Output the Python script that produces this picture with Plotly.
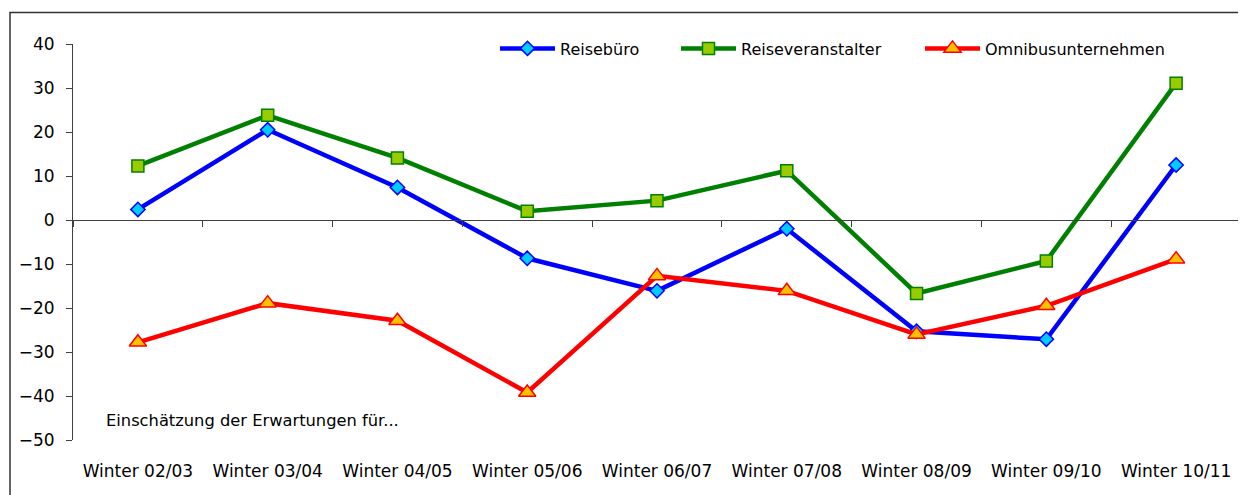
import plotly.graph_objects as go

categories = ["Winter 02/03", "Winter 03/04", "Winter 04/05", "Winter 05/06", "Winter 06/07",
              "Winter 07/08", "Winter 08/09", "Winter 09/10", "Winter 10/11"]
reisebuero = [2.4, 20.5, 7.4, -8.7, -16.1, -2.0, -25.3, -27.1, 12.5]
reiseveranstalter = [12.3, 23.8, 14.1, 2.0, 4.4, 11.2, -16.7, -9.3, 31.1]
omnibus = [-27.8, -18.9, -22.9, -39.2, -12.7, -16.1, -26.0, -19.5, -8.9]
y_ticks = [40, 30, 20, 10, 0, -10, -20, -30, -40, -50]
annotation_text = "Einschätzung der Erwartungen für..."

OFF = 8  # default page body margin
W, H = 1246 - OFF, 495 - OFF
L, R, T, B = 73 - OFF, 5, 43.5 - OFF, 55
pw, ph = W - L - R, H - T - B

def px_x(p):
    return (p - OFF - L) / pw

def px_y(p):
    return (H - B - (p - OFF)) / ph

xs = list(range(len(categories)))
FONT = "DejaVu Sans"
AX = "#404040"

fig = go.Figure()
fig.add_trace(go.Scatter(x=xs, y=reisebuero, name="Reisebüro", mode="lines+markers",
                         legend="legend",
                         line=dict(color="#0000FF", width=4.5),
                         marker=dict(symbol="diamond", size=11, color="#00CCFF",
                                     line=dict(color="#0000FF", width=1.5))))
fig.add_trace(go.Scatter(x=xs, y=reiseveranstalter, name="Reiseveranstalter", mode="lines+markers",
                         legend="legend2",
                         line=dict(color="#008000", width=4.5),
                         marker=dict(symbol="square", size=12, color="#99CC00",
                                     line=dict(color="#008000", width=1.5))))
fig.add_trace(go.Scatter(x=xs, y=omnibus, name="Omnibusunternehmen", mode="lines+markers",
                         legend="legend3",
                         line=dict(color="#FF0000", width=4.5),
                         marker=dict(symbol="triangle-up", size=15, color="#FFC000",
                                     line=dict(color="#FF0000", width=1.5))))

def leg(xpx):
    return dict(orientation="h", x=px_x(xpx), xanchor="left", y=px_y(48), yanchor="middle",
                bgcolor="rgba(0,0,0,0)", font=dict(size=16, family=FONT), itemwidth=55)

n = len(categories)
fig.update_layout(
    width=W, height=H,
    margin=dict(l=L, r=R, t=T, b=B, pad=0),
    paper_bgcolor="white", plot_bgcolor="white",
    font=dict(family=FONT, size=17, color="black"),
    showlegend=True,
    legend=leg(495),
    legend2=leg(676),
    legend3=leg(920),
    xaxis=dict(range=[-0.5, n - 0.5], tickmode="array", tickvals=xs, ticktext=categories,
               showline=False, showgrid=False, zeroline=False, ticks="",
               ticklabelstandoff=19, fixedrange=True),
    xaxis2=dict(range=[-0.5, n - 0.5], overlaying="x", anchor="free",
                position=50 / 90, tickmode="array",
                tickvals=[i - 0.5 for i in range(n + 1)], showticklabels=False,
                ticks="outside", ticklen=6, tickcolor=AX, showline=True,
                linecolor=AX, linewidth=1, showgrid=False, zeroline=False),
    yaxis=dict(range=[-50, 40], tickmode="array", tickvals=y_ticks,
               showline=True, linecolor=AX, linewidth=1, ticks="outside",
               ticklen=6, tickcolor=AX, showgrid=False, zeroline=False,
               ticklabelstandoff=8),
    annotations=[dict(text=annotation_text, x=px_x(104), xref="paper", xanchor="left",
                      y=-45.5, yref="y", yanchor="middle", showarrow=False,
                      font=dict(size=16.3, family=FONT))],
    shapes=[dict(type="rect", xref="paper", yref="paper",
                 x0=px_x(10), x1=px_x(1260), y0=px_y(510), y1=px_y(12),
                 line=dict(color="#333333", width=1.5), layer="below")],
)
# invisible trace on xaxis2 so the zero-line axis renders
fig.add_trace(go.Scatter(x=[0], y=[0], xaxis="x2", mode="markers",
                         marker=dict(opacity=0), showlegend=False, hoverinfo="skip"))

fig.write_html("out.html")
